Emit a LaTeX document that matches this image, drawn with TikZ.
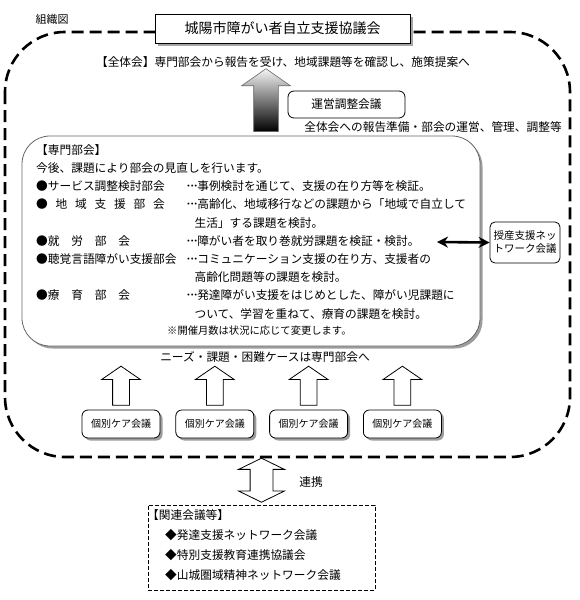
\documentclass[tikz,border=0pt]{standalone}
\usepackage{fontspec}
\setmainfont{Noto Sans CJK JP}
\usepackage{tikz}
\usetikzlibrary{positioning, arrows.meta, shapes.arrows, shadows}

\newcommand{\spreadlabel}[2]{\makebox[#1][s]{#2}}
\newcommand{\middots}{\makebox[1em][l]{･\kern-2.2pt･\kern-2.2pt･}}

\begin{document}
\begin{tikzpicture}[x=1pt, y=-1pt,
    font=\fontsize{11.7}{18.2}\selectfont,
    every node/.style={inner sep=0pt},
    softbox/.style={rectangle, draw, line width=0.8pt, rounded corners=6pt, fill=white},
    shadowbox/.style={softbox, drop shadow={shadow xshift=2.5pt, shadow yshift=-2.5pt, fill=black!70, opacity=0.55}},
    hollowup/.style={single arrow, draw, line width=0.8pt, fill=white, shape border rotate=90,
      inner sep=8pt, single arrow head extend=11pt, single arrow tip angle=111, minimum height=39pt},
    hollowboth/.style={double arrow, draw, line width=0.8pt, fill=white, shape border rotate=90,
      inner sep=11pt, double arrow head extend=11.5pt, double arrow tip angle=128, minimum height=44pt},
    bigup/.style={single arrow, draw=black!60, line width=0.6pt, shape border rotate=90,
      inner sep=12pt, single arrow head extend=12pt, single arrow tip angle=110, minimum height=63pt,
      top color=black!4, bottom color=black},
    biarrow/.style={line width=2.6pt, {Stealth[length=11pt,width=11pt]}-{Stealth[length=11pt,width=11pt]}},
  ]

  \useasboundingbox (0,0) rectangle (580,600);

  % outer frame
  \node [font=\fontsize{11}{13}\selectfont] (soshiki) at (52,19) {組織図};
  \draw [line width=2.6pt, dash pattern=on 12pt off 6pt, rounded corners=60pt] (5,32) rectangle (570,457);

  % nodes
  \node [rectangle, draw, line width=1pt, fill=white, minimum width=255pt, minimum height=29pt,
         font=\fontsize{14}{16}\selectfont,
         drop shadow={shadow xshift=3pt, shadow yshift=-3pt, fill=black!70, opacity=0.5}] (title)
        at (282.5,28.5) {城陽市障がい者自立支援協議会};

  \node (zentai) at (283,62) {【全体会】専門部会から報告を受け、地域課題等を確認し、施策提案へ};

  \node [softbox, minimum width=117pt, minimum height=27pt] (unei) at (346.5,104.5) {運営調整会議};
  \node (ueinote) at (433,127) {全体会への報告準備・部会の運営、管理、調整等};

  \node [bigup] (upmain) at (266,104.5) {};

  % 専門部会
  \node [shadowbox, draw=black!60, rounded corners=28pt, minimum width=458pt, minimum height=210pt]
        (senmon) at (251,241) {};
  \node [anchor=west] (senmontext) at (36,241)
  {\begin{tabular}{@{}l@{\hspace{9pt}}l@{}}
     \multicolumn{2}{@{}l}{【専門部会】} \\
     \multicolumn{2}{@{}l}{今後、課題により部会の見直しを行います。} \\
     ●サービス調整検討部会 & \middots 事例検討を通じて、支援の在り方等を検証。 \\
     \spreadlabel{128.7pt}{●\hfill 地\hfill 域\hfill 支\hfill 援\hfill 部\hfill 会} & \middots 高齢化、地域移行などの課題から「地域で自立して \\
     & \hspace{9pt}生活」する課題を検討。 \\
     \spreadlabel{94pt}{●就\hfill 労\hfill 部\hfill 会} & \middots 障がい者を取り巻就労課題を検証・検討。 \\
     ●聴覚言語障がい支援部会 & \middots コミュニケーション支援の在り方、支援者の \\
     & \hspace{9pt}高齢化問題等の課題を検討。 \\
     \spreadlabel{94pt}{●療\hfill 育\hfill 部\hfill 会} & \middots 発達障がい支援をはじめとした、障がい児課題に \\
     & \hspace{9pt}ついて、学習を重ねて、療育の課題を検討。 \\[-1.5pt]
     \multicolumn{2}{@{}l}{\hspace{131pt}\fontsize{10.3}{12}\selectfont ※開催月数は状況に応じて変更します。}
   \end{tabular}};

  \node [softbox, rounded corners=5pt, minimum width=70pt, minimum height=41pt, align=center,
         font=\fontsize{10.5}{13}\selectfont] (jusan) at (525,242.5) {授産支援ネッ\\トワーク会議};
  \coordinate (shurou) at (437,242);

  \node (needs) at (265,357) {ニーズ・課題・困難ケースは専門部会へ};

  % 個別ケア会議
  \node [shadowbox, minimum width=78pt, minimum height=28pt, font=\fontsize{10}{12}\selectfont]
        (care1) at (121,424) {個別ケア会議};
  \node [shadowbox, minimum width=78pt, minimum height=28pt, font=\fontsize{10}{12}\selectfont]
        (care2) [right = 15pt of care1] {個別ケア会議};
  \node [shadowbox, minimum width=78pt, minimum height=28pt, font=\fontsize{10}{12}\selectfont]
        (care3) [right = 15pt of care2] {個別ケア会議};
  \node [shadowbox, minimum width=78pt, minimum height=28pt, font=\fontsize{10}{12}\selectfont]
        (care4) [right = 15pt of care3] {個別ケア会議};

  \node [hollowup] (up1) [above = 4pt of care1] {};
  \node [hollowup] (up2) [above = 4pt of care2] {};
  \node [hollowup] (up3) [above = 4pt of care3] {};
  \node [hollowup] (up4) [above = 4pt of care4] {};

  % 関連会議等
  \node [rectangle, draw, line width=0.7pt, dash pattern=on 4pt off 2pt, minimum width=227pt, minimum height=85pt]
        (kanren) at (261.5,547.5) {};
  \node [anchor=west, font=\fontsize{11.7}{20}\selectfont] (kanrentext) at (147,545)
  {\begin{tabular}{@{}l@{}}
     【関連会議等】 \\
     \hspace{18pt}◆発達支援ネットワーク会議 \\
     \hspace{18pt}◆特別支援教育連携協議会 \\
     \hspace{18pt}◆山城圏域精神ネットワーク会議
   \end{tabular}};

  \node [hollowboth] (renkei) [above = 2pt of kanren] {};
  \node (renkeilabel) at (311,482) {連携};

  % edges
  \draw [biarrow] (shurou) -- (jusan.west);

\end{tikzpicture}
\end{document}
